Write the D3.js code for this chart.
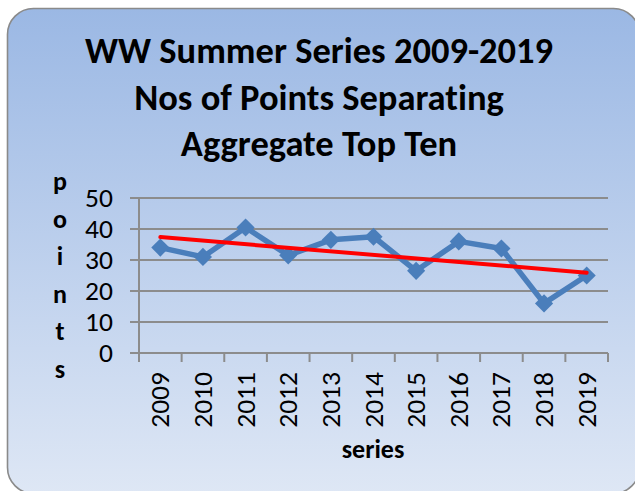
<!DOCTYPE html>
<html>
<head>
<meta charset="utf-8">
<script src="https://cdn.jsdelivr.net/npm/d3@7"></script>
<style>
  html, body { margin: 0; padding: 0; background: #ffffff; }
  svg { display: block; }
  text { font-family: Carlito, "Open Sans", "Liberation Sans", sans-serif; font-variant-ligatures: none; font-feature-settings: "liga" 0, "clig" 0; }
</style>
</head>
<body>
<svg id="chart" width="635" height="491"></svg>
<script>
const titleLines = ["WW Summer Series 2009-2019", "Nos of Points Separating", "Aggregate Top Ten"];
const categories = ["2009","2010","2011","2012","2013","2014","2015","2016","2017","2018","2019"];
const values = [34, 31, 40.5, 31.5, 36.5, 37.5, 26.5, 36, 33.7, 16, 25];
const yTicks = [0, 10, 20, 30, 40, 50];
const yTitle = "points";
const xTitle = "series";

const svg = d3.select("#chart");
const W = 635, H = 491;
const m = { left: 139, right: 27, top: 198, bottom: 138 };
const pw = W - m.left - m.right, ph = H - m.top - m.bottom;

// background
const defs = svg.append("defs");
const grad = defs.append("linearGradient").attr("id", "bg").attr("x1", 0).attr("y1", 0).attr("x2", 0).attr("y2", 1);
grad.append("stop").attr("offset", "0%").attr("stop-color", "#9bb8e4");
grad.append("stop").attr("offset", "100%").attr("stop-color", "#dee7f5");
svg.append("rect").attr("x", 7.5).attr("y", 8.5).attr("width", 632).attr("height", 485)
  .attr("rx", 26).attr("fill", "url(#bg)").attr("stroke", "#8a8a8a").attr("stroke-width", 1.6);

// title
const title = svg.append("text").attr("text-anchor", "middle").attr("font-weight", "bold")
  .attr("font-size", 36.5).attr("fill", "#000");
titleLines.forEach((t, i) => {
  title.append("tspan").attr("x", 319).attr("y", 63 + i * 46.5).text(t);
});

const g = svg.append("g").attr("transform", `translate(${m.left},${m.top})`);
const x = d3.scaleBand().domain(categories).range([0, pw]);
const y = d3.scaleLinear().domain([0, 50]).range([ph, 0]);

// gridlines
g.append("g").selectAll("line").data(yTicks).join("line")
  .attr("x1", -9).attr("x2", pw).attr("y1", d => y(d)).attr("y2", d => y(d))
  .attr("stroke", "#8c8c8c").attr("stroke-width", 2);

// y axis line
g.append("line").attr("x1", 0).attr("x2", 0).attr("y1", 0).attr("y2", ph + 9)
  .attr("stroke", "#8c8c8c").attr("stroke-width", 2);

// x tick marks at band boundaries
const bounds = categories.map(c => x(c)).concat([pw]);
g.append("g").selectAll("line").data(bounds).join("line")
  .attr("x1", d => d).attr("x2", d => d).attr("y1", ph).attr("y2", ph + 9)
  .attr("stroke", "#8c8c8c").attr("stroke-width", 2);

// y tick labels
g.append("g").selectAll("text").data(yTicks).join("text")
  .attr("x", -26).attr("y", d => y(d)).attr("dy", "0.33em").attr("text-anchor", "end")
  .attr("font-size", 27.5).attr("fill", "#000").text(d => d);

// x tick labels rotated
g.append("g").selectAll("text").data(categories).join("text")
  .attr("transform", d => `translate(${x(d) + x.bandwidth() / 2},${ph + 19}) rotate(-90)`)
  .attr("text-anchor", "end").attr("dy", "0.33em")
  .attr("font-size", 27.5).attr("fill", "#000").text(d => d);

// series line
const cx = d => x(d) + x.bandwidth() / 2;
const pts = categories.map((c, i) => [cx(c), y(values[i])]);
g.append("path").attr("d", d3.line()(pts)).attr("fill", "none")
  .attr("stroke", "#4a7ebb").attr("stroke-width", 5.5).attr("stroke-linejoin", "round");
g.append("g").selectAll("path").data(pts).join("path")
  .attr("d", d3.symbol().type(d3.symbolDiamond2).size(210))
  .attr("transform", d => `translate(${d[0]},${d[1]})`)
  .attr("fill", "#4a7ebb");

// linear trendline (least squares over the data)
const n = values.length;
const xs = values.map((v, i) => i + 1);
const mx = d3.mean(xs), my = d3.mean(values);
const slope = d3.sum(xs.map((xi, i) => (xi - mx) * (values[i] - my))) / d3.sum(xs.map(xi => (xi - mx) ** 2));
const icpt = my - slope * mx;
g.append("line")
  .attr("x1", cx(categories[0])).attr("y1", y(icpt + slope * xs[0]))
  .attr("x2", cx(categories[n - 1])).attr("y2", y(icpt + slope * xs[n - 1]))
  .attr("stroke", "#ff0000").attr("stroke-width", 4).attr("stroke-linecap", "round");

// y axis title (stacked letters)
const yt = svg.append("text").attr("font-weight", "bold").attr("font-size", 26)
  .attr("text-anchor", "middle").attr("fill", "#000");
yTitle.split("").forEach((ch, i) => {
  yt.append("tspan").attr("x", 60).attr("y", 190 + i * 37.5).text(ch);
});

// x axis title
svg.append("text").attr("x", 373).attr("y", 458).attr("text-anchor", "middle")
  .attr("font-weight", "bold").attr("font-size", 26).attr("fill", "#000").text(xTitle);
</script>
</body>
</html>
